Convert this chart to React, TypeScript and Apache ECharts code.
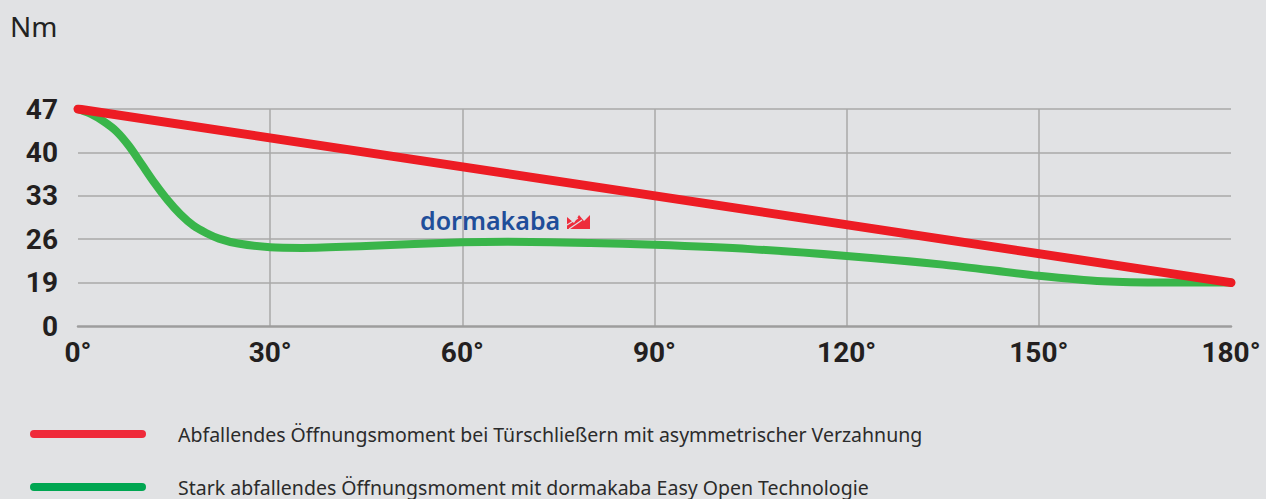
import React, { useEffect, useRef } from "react";
import * as echarts from "echarts";

// Opening angle (degrees) vs. opening moment (Nm)
const redName = "Abfallendes Öffnungsmoment bei Türschließern mit asymmetrischer Verzahnung";
const greenName = "Stark abfallendes Öffnungsmoment mit dormakaba Easy Open Technologie";

const redAngles = [0, 180];
const redValues = [47, 19];

const greenAngles = [0, 2, 4, 6, 8, 10, 12, 14, 16, 18, 20, 22, 25, 30, 35, 45, 60, 67, 80, 90, 105, 120, 135, 150, 160, 170, 180];
const greenValues = [47, 46.2, 45, 43.4, 41, 38, 35, 32.3, 30, 28.2, 27, 26.1, 25.3, 24.7, 24.6, 24.9, 25.5, 25.6, 25.4, 25.1, 24.4, 23.3, 21.9, 20.1, 19.2, 19, 19];

// y tick scale: the bottom tick (12 on the internal scale) is labelled "0"
const yTickLabels: Record<number, string> = { 12: "0", 19: "19", 26: "26", 33: "33", 40: "40", 47: "47" };
const xTicks = [0, 30, 60, 90, 120, 150, 180];

const pair = (xs: number[], ys: number[]) => xs.map((x, i) => [x, ys[i]]);

export default function App() {
  const ref = useRef<HTMLDivElement>(null);
  useEffect(() => {
    if (!ref.current) return;
    const chart = echarts.init(ref.current, undefined, { renderer: "svg" });
    const labelFont = { fontFamily: "Roboto", fontWeight: "bold" as const, fontSize: 28, color: "#231f20" };
    const legendBase = {
      orient: "vertical" as const,
      left: 30,
      padding: 0,
      itemWidth: 116,
      itemHeight: 8,
      selectedMode: false,
      icon: "path://M4,0L112,0A4,4,0,0,1,112,8L4,8A4,4,0,0,1,4,0Z",
      textStyle: { fontSize: 19.5, color: "#2b2b2b", fontFamily: "Noto Sans", padding: [0, 0, 0, 27], lineHeight: 18 },
    };
    chart.setOption({
      animation: false,
      backgroundColor: "#e1e2e4",
      grid: { left: 78, right: 35, top: 109, bottom: 173 },
      xAxis: {
        type: "value",
        min: xTicks[0],
        max: xTicks[xTicks.length - 1],
        interval: 30,
        axisLine: { show: true, lineStyle: { color: "#9d9d9d", width: 2.5 } },
        axisTick: { show: false },
        axisLabel: { ...labelFont, margin: 12, formatter: (v: number) => `${v}°` },
        splitLine: { show: true, showMinLine: false, showMaxLine: false, lineStyle: { color: "#a9a9a9", width: 1.5 } },
      },
      yAxis: {
        type: "value",
        min: 12,
        max: 47,
        interval: 7,
        axisLine: { show: false },
        axisTick: { show: false },
        axisLabel: { ...labelFont, margin: 20, formatter: (v: number) => yTickLabels[v] ?? "" },
        splitLine: { show: true, showMinLine: false, lineStyle: { color: "#a9a9a9", width: 1.5 } },
      },
      legend: [
        { ...legendBase, top: 424, data: [{ name: redName, itemStyle: { color: "#ef2a3a" } }] },
        { ...legendBase, top: 477, data: [{ name: greenName, itemStyle: { color: "#00a651" } }] },
      ],
      graphic: [
        {
          type: "text",
          left: 10,
          top: 12,
          style: { text: "Nm", font: "28px 'Noto Sans'", fill: "#222" },
        },
        {
          type: "text",
          x: 420,
          y: 220,
          style: { text: "dormakaba", font: "600 25px 'Noto Sans'", fill: "#1f4e9a", verticalAlign: "middle" },
        },
        {
          type: "polygon",
          shape: { points: [[567, 229], [567, 217], [574, 223], [579, 215], [584, 221], [590, 215], [590, 229]] },
          style: { fill: "#ee2d3c" },
        },
        { type: "line", shape: { x1: 569, y1: 229, x2: 582, y2: 220 }, style: { stroke: "#e1e2e4", lineWidth: 1.2 } },
        { type: "line", shape: { x1: 567, y1: 225, x2: 578, y2: 218 }, style: { stroke: "#e1e2e4", lineWidth: 1.2 } },
      ],
      series: [
        {
          name: greenName,
          type: "line",
          data: pair(greenAngles, greenValues),
          smooth: 0.3,
          showSymbol: false,
          lineStyle: { color: "#39b54a", width: 8, cap: "round", join: "round" },
          itemStyle: { color: "#00a651" },
          z: 3,
        },
        {
          name: redName,
          type: "line",
          data: pair(redAngles, redValues),
          showSymbol: false,
          lineStyle: { color: "#ed1c24", width: 9, cap: "round" },
          itemStyle: { color: "#ef2a3a" },
          z: 4,
        },
      ],
    });
    return () => chart.dispose();
  }, []);
  return <div ref={ref} style={{ position: "fixed", left: 0, top: 0, width: 1266, height: 499 }} />;
}
